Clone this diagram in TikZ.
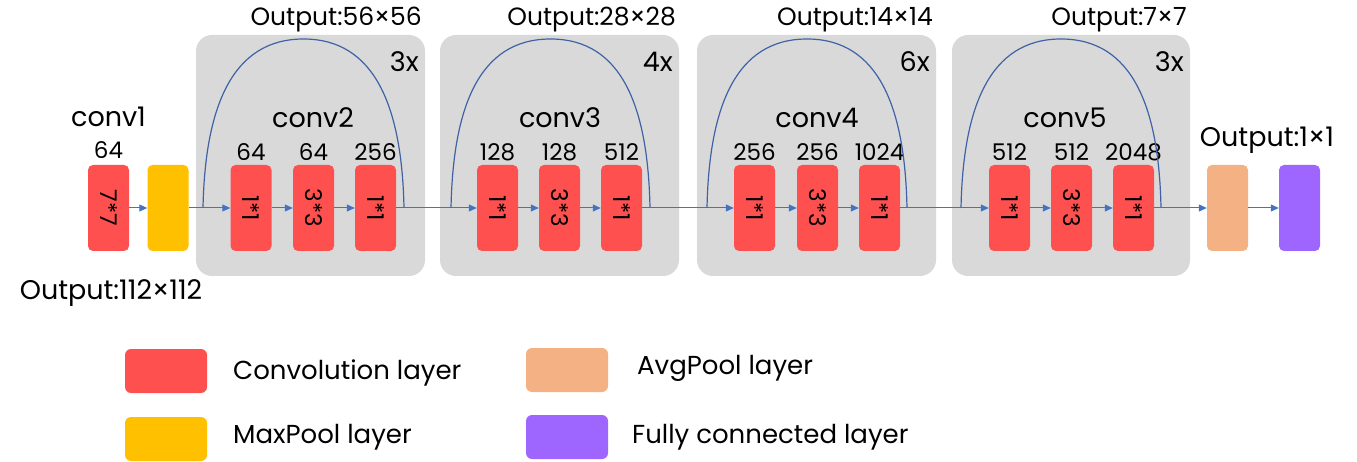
\documentclass[tikz,border=0pt]{standalone}
\usepackage{fontspec}
\setmainfont{Poppins}
\usetikzlibrary{arrows.meta}

\definecolor{convred}{HTML}{FF5050}
\definecolor{maxyellow}{HTML}{FFC000}
\definecolor{avgorange}{HTML}{F4B183}
\definecolor{fcpurple}{HTML}{9F66FF}
\definecolor{stagegray}{HTML}{D9D9D9}
\definecolor{flowblue}{HTML}{4472C4}
\definecolor{skipblue}{HTML}{3F62A6}

\tikzset{
  layer/.style={rectangle, rounded corners=5pt, minimum width=41pt, minimum height=86pt, inner sep=0pt},
  convbox/.style={layer, fill=convred},
  maxbox/.style={layer, fill=maxyellow},
  avgbox/.style={layer, fill=avgorange},
  fcbox/.style={layer, fill=fcpurple},
  stagebox/.style={fill=stagegray, rounded corners=16pt},
  kernel/.style={rotate=-90, font=\fontsize{23}{23}\selectfont, inner sep=0pt},
  chan/.style={font=\fontsize{23}{23}\selectfont, inner sep=0pt},
  biglabel/.style={font=\fontsize{27}{27}\selectfont, inner sep=0pt},
  outlabel/.style={font=\fontsize{25}{25}\selectfont, inner sep=0pt},
  wideout/.style={font=\fontsize{27}{27}\selectfont, inner sep=0pt},
  flow/.style={draw=flowblue, line width=1pt, -{Triangle[length=8pt,width=7pt]}},
  skip/.style={draw=skipblue, line width=1.2pt},
  legendbox/.style={rectangle, rounded corners=6pt, minimum width=82pt, minimum height=44pt, inner sep=0pt},
  legendtext/.style={font=\fontsize{26}{26}\selectfont, anchor=west, inner sep=0pt},
}

\begin{document}
\begin{tikzpicture}[x=1pt, y=-1pt]
\useasboundingbox (0,0) rectangle (1357,462);

% stage backgrounds
\fill[stagebox] (196,35) rectangle (425,276);
\fill[stagebox] (440,35) rectangle (679,276);
\fill[stagebox] (697,35) rectangle (936,276);
\fill[stagebox] (952,35) rectangle (1190,276);

% stem
\node[convbox] (c1) at (108.5,208) {};
\node[kernel] (c1k) at (c1.center) {7*7};
\node[maxbox] (mp) at (168,208) {};
\node[biglabel] (c1name) at (108.5,117) {conv1};
\node[chan] (c1ch) at (108.5,150) {64};
\node[wideout] (c1out) at (111,293) {Output:112×112};

% bottleneck stages
\foreach \s/\xa/\xb/\xc/\chA/\chB/\chC/\cx/\rep/\outx/\outtxt/\al/\ar in {
    2/251/313.5/375.5/64/64/256/313/3x/425/56×56/203/404,
    3/497.5/559.5/621.5/128/128/512/560/4x/679/28×28/451/650,
    4/754.5/817.5/879.5/256/256/1024/817/6x/936/14×14/707/907,
    5/1009.5/1071.5/1133.5/512/512/2048/1065/3x/1190/7×7/961/1161} {
  \node[convbox] (b\s a) at (\xa,208) {};
  \node[convbox] (b\s b) at (\xb,208) {};
  \node[convbox] (b\s c) at (\xc,208) {};
  \node[kernel] (k\s a) at (b\s a.center) {1*1};
  \node[kernel] (k\s b) at (b\s b.center) {3*3};
  \node[kernel] (k\s c) at (b\s c.center) {1*1};
  \node[chan] (n\s a) at (\xa,152) {\chA};
  \node[chan] (n\s b) at (\xb,152) {\chB};
  \node[chan] (n\s c) at (\xc,152) {\chC};
  \node[biglabel] (name\s) at (\cx,118) {conv\s};
  \node[outlabel, anchor=east] (out\s) at (\outx-3,20) {Output:\outtxt};
  \node[biglabel, anchor=east] (rep\s) at (\outx-6,62) {\rep};
  % shortcut around the block
  \coordinate (sl\s) at (\al,208);
  \coordinate (sr\s) at (\ar,208);
  \coordinate (st\s) at ({(\al+\ar)/2},39);
  \draw[skip] (sl\s) .. controls (\al+2,108) and ({(\al+\ar)/2-72},39) .. (st\s)
              .. controls ({(\al+\ar)/2+72},39) and (\ar-2,108) .. (sr\s);
  \draw[flow] (b\s a) -- (b\s b);
  \draw[flow] (b\s b) -- (b\s c);
}

% head
\node[avgbox] (avg) at (1227.5,208) {};
\node[fcbox] (fc) at (1299.5,208) {};
\node[wideout] (fcout) at (1267,140) {Output:1×1};

% main path
\draw[flow] (c1) -- (mp);
\draw[flow] (mp) -- (b2a);
\draw[flow] (b2c) -- (b3a);
\draw[flow] (b3c) -- (b4a);
\draw[flow] (b4c) -- (b5a);
\draw[flow] (b5c) -- (avg);
\draw[flow] (avg) -- (fc);

% legend
\node[legendbox, fill=convred] (lg1) at (166,371) {};
\node[legendbox, fill=maxyellow] (lg2) at (166,439) {};
\node[legendbox, fill=avgorange] (lg3) at (567,370) {};
\node[legendbox, fill=fcpurple] (lg4) at (567,437) {};
\node[legendtext] (lt1) at (233,373) {Convolution layer};
\node[legendtext] (lt2) at (233,437) {MaxPool layer};
\node[legendtext] (lt3) at (637,368) {AvgPool layer};
\node[legendtext] (lt4) at (632,437) {Fully connected layer};
\end{tikzpicture}
\end{document}
